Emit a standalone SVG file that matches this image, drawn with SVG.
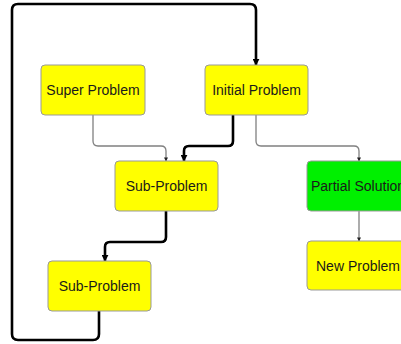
<svg xmlns="http://www.w3.org/2000/svg" width="401" height="344" viewBox="0 0 401 344">
<defs>
<marker id="at" viewBox="0 0 10 10" refX="9" refY="5" markerWidth="4" markerHeight="4" markerUnits="userSpaceOnUse" orient="auto"><path d="M0,0 L10,5 L0,10 z" fill="#222"/></marker>
<marker id="ak" viewBox="0 0 10 10" refX="9" refY="5" markerWidth="7" markerHeight="7" markerUnits="userSpaceOnUse" orient="auto"><path d="M0,0 L10,5 L0,10 z" fill="#000"/></marker>
</defs>
<style>
.box{stroke:#999;stroke-width:1;}
.y{fill:#ffff00;}
.g{fill:#00f000;}
.t{font-family:"Liberation Sans",Arial,sans-serif;font-size:14px;fill:#1a1a1a;text-anchor:middle;}
.thin{fill:none;stroke:#808080;stroke-width:1.3;marker-end:url(#at);}
.thick{fill:none;stroke:#000;stroke-width:2.6;marker-end:url(#ak);}
</style>
<g id="connectors">
<path class="thin" d="M93,115 V141 Q93,146 98,146 H161 Q166,146 166,151 V161"/>
<path class="thick" d="M233,115 V141 Q233,146 228,146 H189 Q184,146 184,151 V161"/>
<path class="thin" d="M256,115 V141 Q256,146 261,146 H354 Q359,146 359,151 V161"/>
<path class="thin" d="M359,211 V241"/>
<path class="thick" d="M166,211 V237 Q166,242 161,242 H110 Q105,242 105,247 V261"/>
<path class="thick" d="M99,311 V334 Q99,340 93,340 H18 Q12,340 12,334 V10 Q12,4 18,4 H250 Q256,4 256,10 V65"/>
</g>
<g id="super-problem"><rect class="box y" x="41" y="65" width="104" height="50" rx="4"/><text class="t" x="93" y="95">Super Problem</text></g>
<g id="initial-problem"><rect class="box y" x="205" y="65" width="103" height="50" rx="4"/><text class="t" x="256.5" y="95">Initial Problem</text></g>
<g id="sub-problem-1"><rect class="box y" x="115" y="161" width="103" height="50" rx="4"/><text class="t" x="166.5" y="191">Sub-Problem</text></g>
<g id="partial-solution"><rect class="box g" x="307" y="161" width="103" height="50" rx="4"/><text class="t" x="358" y="191">Partial Solution</text></g>
<g id="sub-problem-2"><rect class="box y" x="48" y="261" width="103" height="50" rx="4"/><text class="t" x="99.5" y="291">Sub-Problem</text></g>
<g id="new-problem"><rect class="box y" x="307" y="241" width="103" height="49" rx="4"/><text class="t" x="358" y="271">New Problem</text></g>
</svg>
